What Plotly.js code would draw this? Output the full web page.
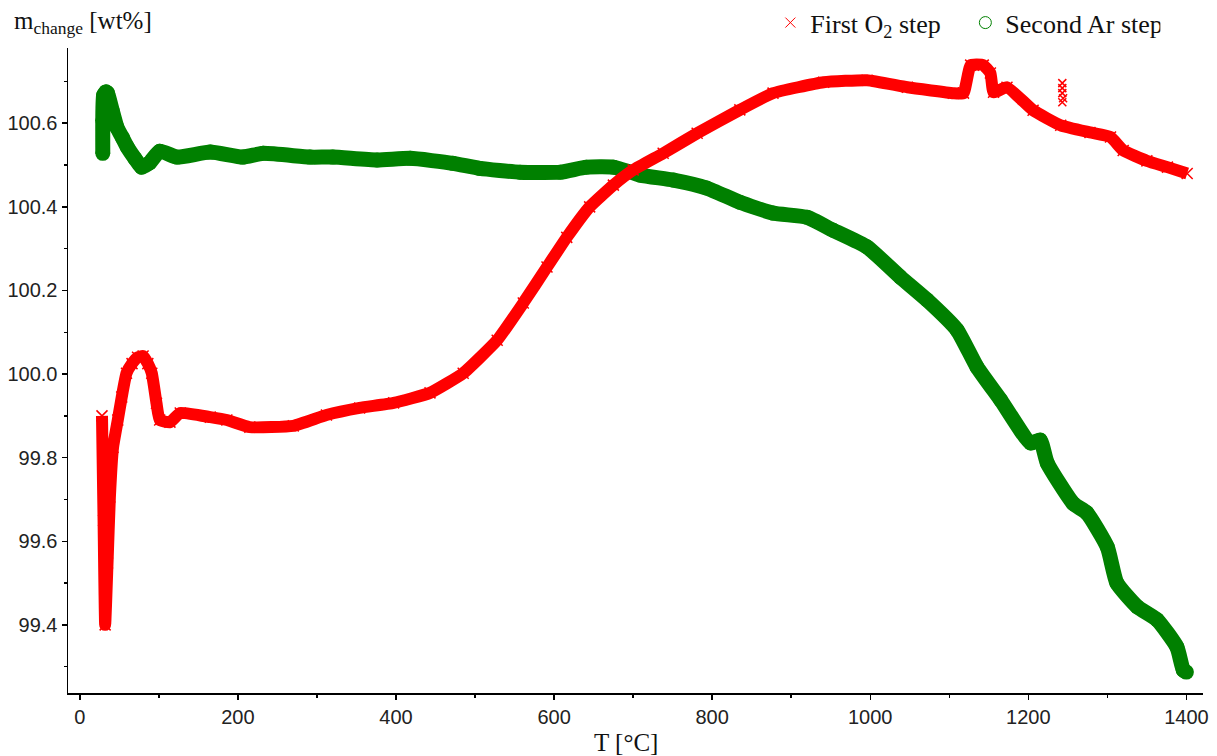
<!DOCTYPE html>
<html>
<head>
<meta charset="utf-8">
<script src="https://cdn.plot.ly/plotly-3.0.1.min.js"></script>
<style>html,body{margin:0;padding:0;background:#fff;}#chart{width:1217px;height:756px;}</style>
</head>
<body>
<div id="chart"></div>
<script>
// Second Ar step (green circles)
const arT = [29, 29, 30, 33, 35, 41, 47, 54, 60, 70, 78, 88, 101, 123, 165, 206, 232, 291, 320, 376, 418, 472, 506, 557, 608, 641, 675, 709, 751, 793, 835, 877, 920, 953, 996, 1038, 1072, 1110, 1135, 1165, 1203, 1215, 1224, 1257, 1274, 1300, 1312, 1338, 1363, 1388, 1396, 1400];
const arM = [100.528, 100.607, 100.667, 100.675, 100.672, 100.630, 100.590, 100.565, 100.543, 100.515, 100.495, 100.505, 100.533, 100.519, 100.531, 100.519, 100.528, 100.519, 100.519, 100.512, 100.516, 100.504, 100.492, 100.483, 100.483, 100.495, 100.495, 100.476, 100.464, 100.445, 100.411, 100.385, 100.375, 100.344, 100.304, 100.232, 100.177, 100.105, 100.017, 99.938, 99.835, 99.842, 99.787, 99.690, 99.668, 99.586, 99.500, 99.443, 99.412, 99.347, 99.292, 99.287];

// First O2 step (red crosses)
const o2T = [28, 30, 32, 35, 38, 42, 48, 53, 59, 66, 73, 80, 86, 91, 97, 101, 114, 127, 165, 186, 215, 270, 312, 354, 397, 443, 485, 528, 561, 591, 616, 645, 675, 700, 738, 781, 835, 877, 941, 996, 1047, 1105, 1118, 1127, 1143, 1152, 1156, 1173, 1206, 1241, 1278, 1304, 1320, 1350, 1376, 1401];
const o2M = [99.900, 99.650, 99.400, 99.548, 99.706, 99.825, 99.890, 99.945, 100.002, 100.025, 100.040, 100.043, 100.025, 100.002, 99.930, 99.890, 99.885, 99.907, 99.897, 99.890, 99.873, 99.876, 99.902, 99.919, 99.931, 99.955, 100.002, 100.081, 100.170, 100.256, 100.327, 100.400, 100.452, 100.488, 100.528, 100.576, 100.632, 100.672, 100.698, 100.703, 100.686, 100.672, 100.672, 100.739, 100.739, 100.720, 100.674, 100.686, 100.631, 100.595, 100.578, 100.567, 100.535, 100.510, 100.495, 100.480];

// isolated O2 points near 1240 °C
const o2OutT = [1243, 1243, 1243, 1244, 1243];
const o2OutM = [100.696, 100.684, 100.672, 100.660, 100.650];

const xTicks = [0, 200, 400, 600, 800, 1000, 1200, 1400];
const yTicks = [99.4, 99.6, 99.8, 100.0, 100.2, 100.4, 100.6];

const RED = '#ff0000', GREEN = '#008000';
const serif = '"Liberation Serif", "Times New Roman", serif';
const sans = '"Liberation Sans", Arial, sans-serif';

const traces = [
  {x: arT, y: arM, type: 'scatter', mode: 'lines+markers', showlegend: false,
   line: {color: GREEN, width: 15, shape: 'spline', smoothing: 0.5}, marker: {symbol: 'circle', size: 15, color: GREEN}},
  {x: o2T, y: o2M, type: 'scatter', mode: 'lines+markers', showlegend: false,
   line: {color: RED, width: 12, shape: 'spline', smoothing: 0.4}, marker: {symbol: 'x-thin', size: 11, line: {color: RED, width: 1.5}, color: RED}},
  {x: o2OutT, y: o2OutM, type: 'scatter', mode: 'markers', showlegend: false,
   marker: {symbol: 'x-thin', size: 8, line: {color: RED, width: 1.5}, color: RED}},
  {x: [null], y: [null], type: 'scatter', mode: 'markers', name: 'First O<sub>2</sub> step',
   marker: {symbol: 'x-thin', size: 10, line: {color: RED, width: 1}, color: RED}},
  {x: [null], y: [null], type: 'scatter', mode: 'markers', name: 'Second Ar step',
   marker: {symbol: 'circle-open', size: 12, line: {color: GREEN, width: 1}, color: GREEN}}
];

const axisCommon = {
  showgrid: false, zeroline: false, showline: true, linecolor: '#000', linewidth: 1.5,
  ticks: 'outside', ticklen: 5, tickwidth: 1.5, tickcolor: '#000',
  tickfont: {family: sans, size: 20, color: '#222'}
};

const layout = {
  width: 1217, height: 756,
  margin: {l: 68, r: 14, t: 48, b: 63},
  paper_bgcolor: '#fff', plot_bgcolor: '#fff',
  xaxis: Object.assign({}, axisCommon, {
    range: [-15, 1421], tickvals: xTicks, ticktext: xTicks.map(String),
    minor: {dtick: 100, tick0: 0, ticks: 'outside', ticklen: 3, tickwidth: 1.5, tickcolor: '#000'}
  }),
  yaxis: Object.assign({}, axisCommon, {
    range: [99.237, 100.78], tickvals: yTicks, ticktext: yTicks.map(v => v.toFixed(1)),
    minor: {dtick: 0.1, tick0: 99.4, ticks: 'outside', ticklen: 3, tickwidth: 1.5, tickcolor: '#000'}
  }),
  showlegend: true,
  legend: {orientation: 'h', xref: 'container', yref: 'container', x: 0.633, xanchor: 'left',
           y: 0.97, yanchor: 'middle', entrywidth: 150,
           font: {family: serif, size: 26, color: '#111'}, bgcolor: 'rgba(0,0,0,0)'},
  annotations: [
    {text: 'm<sub>change</sub> [wt%]', xref: 'paper', yref: 'paper', x: -0.049, y: 1.04,
     xanchor: 'left', yanchor: 'middle', showarrow: false, font: {family: serif, size: 25, color: '#111'}},
    {text: 'T [°C]', xref: 'paper', yref: 'paper', x: 0.4916, y: -0.076,
     xanchor: 'center', yanchor: 'middle', showarrow: false, font: {family: serif, size: 25, color: '#111'}}
  ]
};

Plotly.newPlot('chart', traces, layout, {displayModeBar: false, staticPlot: true});
</script>
</body>
</html>
